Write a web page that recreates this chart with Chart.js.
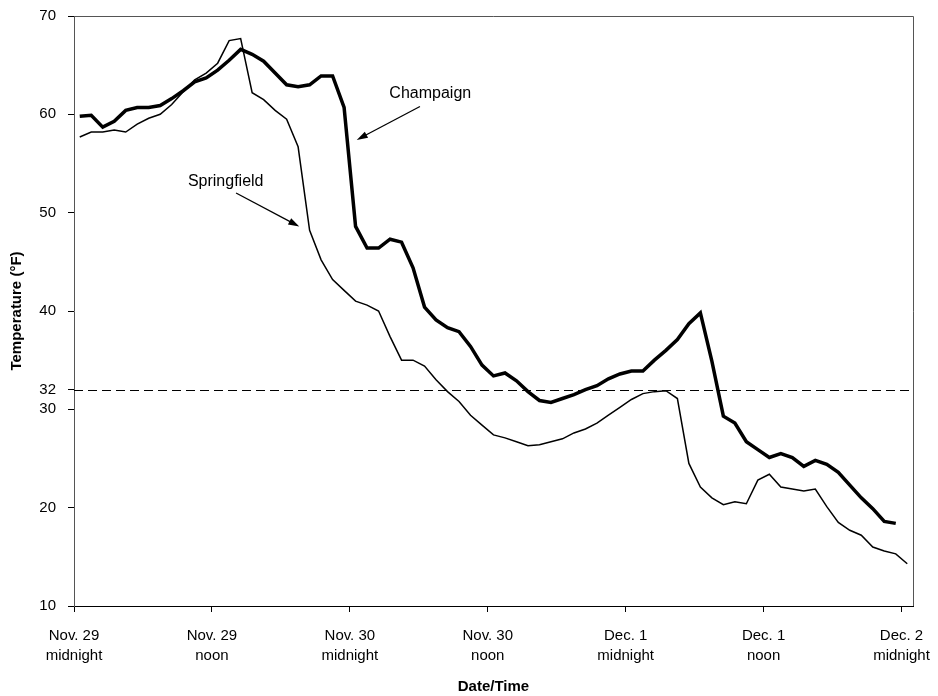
<!DOCTYPE html>
<html lang="en">
<head>
<meta charset="UTF-8">
<title>Temperature: Champaign vs Springfield</title>
<script src="https://cdn.jsdelivr.net/npm/chart.js"></script>
<style>
  html, body { margin: 0; padding: 0; background: #fff; }
  #wrap { width: 938px; height: 696px; position: relative; }
</style>
</head>
<body>
<div id="wrap"><canvas id="tempChart"></canvas></div>
<script>
  // hourly readings, starting Nov. 29 midnight
  const champaign = [
    59.8, 59.9, 58.7, 59.3, 60.4, 60.7, 60.7, 60.9, 61.6, 62.4, 63.3, 63.7,
    64.5, 65.5, 66.6, 66.1, 65.4, 64.2, 63.0, 62.8, 63.0, 63.9, 63.9, 60.7,
    48.6, 46.4, 46.4, 47.3, 47.0, 44.4, 40.4, 39.1, 38.3, 37.9, 36.4, 34.5,
    33.4, 33.7, 32.9, 31.8, 30.9, 30.7, 31.1, 31.5, 32.0, 32.4, 33.1, 33.6,
    33.9, 33.9, 35.0, 36.0, 37.1, 38.7, 39.8, 34.9, 29.3, 28.6, 26.7, 25.9,
    25.1, 25.5, 25.1, 24.2, 24.8, 24.4, 23.6, 22.3, 21.0, 19.9, 18.6, 18.4
  ];
  const springfield = [
    57.7, 58.2, 58.2, 58.4, 58.2, 59.0, 59.6, 60.0, 61.0, 62.3, 63.5, 64.2,
    65.2, 67.5, 67.7, 62.2, 61.5, 60.4, 59.5, 56.7, 48.2, 45.2, 43.2, 42.1,
    41.0, 40.6, 40.0, 37.4, 35.0, 35.0, 34.4, 33.0, 31.8, 30.8, 29.4, 28.4,
    27.4, 27.1, 26.7, 26.3, 26.4, 26.7, 27.0, 27.6, 28.0, 28.6, 29.4, 30.2,
    31.0, 31.6, 31.8, 31.9, 31.1, 24.5, 22.1, 21.0, 20.3, 20.6, 20.4, 22.8,
    23.4, 22.1, 21.9, 21.7, 21.9, 20.1, 18.5, 17.7, 17.2, 16.0, 15.6, 15.3,
    14.3
  ];
  const xTickHours = [0, 12, 24, 36, 48, 60, 72];
  const xTickLabels = [
    ['Nov. 29', 'midnight'], ['Nov. 29', 'noon'], ['Nov. 30', 'midnight'],
    ['Nov. 30', 'noon'], ['Dec. 1', 'midnight'], ['Dec. 1', 'noon'], ['Dec. 2', 'midnight']
  ];
  const yTicks = [10, 20, 30, 32, 40, 50, 60, 70];
  const freezing = 32;

  // callouts in data units: label centre, arrow tail, arrow tip
  const notes = [
    { text: 'Champaign', at: [31.0, 62.1], from: [30.1, 60.8], to: [24.6, 57.4] },
    { text: 'Springfield', at: [13.2, 53.2], from: [14.1, 52.0], to: [19.6, 48.6] }
  ];

  const FONT = "'Liberation Sans', Arial, sans-serif";
  Chart.defaults.font.family = FONT;
  Chart.defaults.color = '#000';

  function arrow(ctx, x1, y1, x2, y2) {
    const ang = Math.atan2(y2 - y1, x2 - x1);
    const len = 11, half = 3.5;
    ctx.beginPath();
    ctx.moveTo(x1, y1);
    ctx.lineTo(x2 - Math.cos(ang) * len * 0.8, y2 - Math.sin(ang) * len * 0.8);
    ctx.stroke();
    ctx.beginPath();
    ctx.moveTo(x2, y2);
    ctx.lineTo(x2 - Math.cos(ang) * len + Math.sin(ang) * half, y2 - Math.sin(ang) * len - Math.cos(ang) * half);
    ctx.lineTo(x2 - Math.cos(ang) * len - Math.sin(ang) * half, y2 - Math.sin(ang) * len + Math.cos(ang) * half);
    ctx.closePath();
    ctx.fill();
  }

  const extras = {
    id: 'extras',
    beforeDatasetsDraw(chart) {
      const { ctx, chartArea: a, scales: { y } } = chart;
      const yy = Math.round(y.getPixelForValue(freezing)) + 0.5;
      ctx.save();
      ctx.strokeStyle = '#000';
      ctx.lineWidth = 1;
      ctx.setLineDash([9, 5]);
      ctx.beginPath();
      ctx.moveTo(a.left, yy);
      ctx.lineTo(a.right, yy);
      ctx.stroke();
      ctx.restore();
    },
    afterDatasetsDraw(chart) {
      const { ctx, chartArea: a, scales: { x, y } } = chart;
      ctx.save();
      // top and right frame
      ctx.strokeStyle = '#555';
      ctx.lineWidth = 1;
      ctx.beginPath();
      ctx.moveTo(a.left, Math.round(a.top) + 0.5);
      ctx.lineTo(Math.round(a.right) + 0.5, Math.round(a.top) + 0.5);
      ctx.lineTo(Math.round(a.right) + 0.5, a.bottom);
      ctx.stroke();

      ctx.fillStyle = '#000';
      ctx.strokeStyle = '#000';
      ctx.lineWidth = 1.3;
      ctx.font = '16px ' + FONT;
      ctx.textAlign = 'center';
      ctx.textBaseline = 'middle';
      notes.forEach(n => {
        ctx.fillText(n.text, x.getPixelForValue(n.at[0]), y.getPixelForValue(n.at[1]));
        arrow(ctx,
          x.getPixelForValue(n.from[0]), y.getPixelForValue(n.from[1]),
          x.getPixelForValue(n.to[0]), y.getPixelForValue(n.to[1]));
      });
      ctx.restore();
    }
  };

  const toPoints = arr => arr.map((v, i) => ({ x: i + 0.5, y: v }));

  new Chart(document.getElementById('tempChart'), {
    type: 'line',
    data: {
      datasets: [
        { label: 'Champaign', data: toPoints(champaign), borderColor: '#000', borderWidth: 3.5,
          pointRadius: 0, tension: 0, fill: false },
        { label: 'Springfield', data: toPoints(springfield), borderColor: '#000', borderWidth: 1.5,
          pointRadius: 0, tension: 0, fill: false }
      ]
    },
    options: {
      responsive: true,
      maintainAspectRatio: false,
      animation: false,
      layout: { padding: { left: 0, right: 25, top: 16, bottom: 0 } },
      plugins: { legend: { display: false }, tooltip: { enabled: false } },
      scales: {
        x: {
          type: 'linear', min: 0, max: 73,
          afterBuildTicks: s => { s.ticks = xTickHours.map(v => ({ value: v })); },
          afterFit: s => { s.height = 90; s.paddingLeft = 0; s.paddingRight = 0; },
          grid: { display: true, drawOnChartArea: false, tickLength: 6, color: '#000' },
          border: { display: true, color: '#000', width: 1 },
          ticks: {
            font: { size: 15, lineHeight: 1.33 }, padding: 14, maxRotation: 0, autoSkip: false,
            callback: (v, i) => xTickLabels[i]
          },
          title: { display: true, text: 'Date/Time', font: { size: 15, weight: 'bold', lineHeight: 1.2 }, padding: 0 }
        },
        y: {
          min: 10, max: 70,
          afterBuildTicks: s => { s.ticks = yTicks.map(v => ({ value: v })); },
          afterFit: s => { s.width = 74; s.paddingTop = 0; s.paddingBottom = 0; },
          grid: { display: true, drawOnChartArea: false, tickLength: 6, color: '#000' },
          border: { display: true, color: '#555', width: 1 },
          ticks: { font: { size: 15 }, padding: 12, autoSkip: false },
          title: { display: true, text: 'Temperature (°F)', font: { size: 15, weight: 'bold', lineHeight: 1.2 },
                   padding: { top: 8, bottom: 0 } }
        }
      }
    },
    plugins: [extras]
  });
</script>
</body>
</html>
